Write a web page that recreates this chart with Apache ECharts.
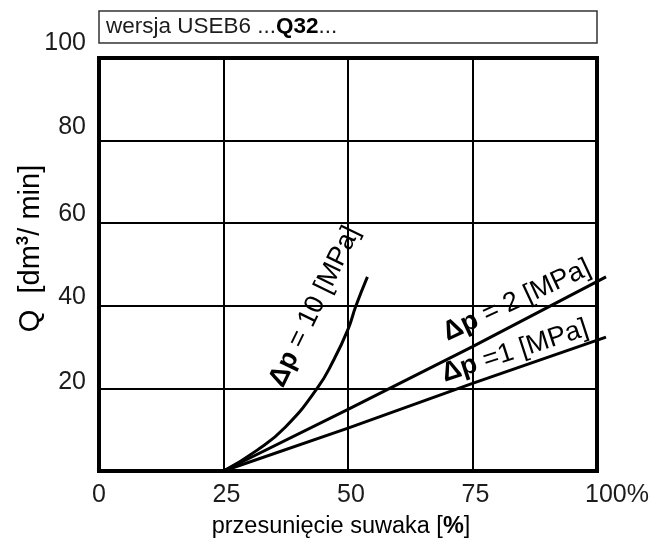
<!DOCTYPE html>
<html>
<head>
<meta charset="utf-8">
<script src="https://cdn.jsdelivr.net/npm/echarts@6/dist/echarts.min.js"></script>
<style>html,body{margin:0;padding:0;background:#fff}#c{width:652px;height:545px}</style>
</head>
<body>
<div id="c"></div>
<script>
// ---- data ----
var xTicks = [0, 25, 50, 75, 100];
var yTicks = [20, 40, 60, 80, 100];
var dp10X = [25, 31.7, 37.4, 43.8, 47.1, 50, 51.6, 53.9];
var dp10Y = [0, 5.0, 10.6, 20.0, 26.8, 34.3, 40.0, 47.0];
var dp2X = [25, 50, 75, 101.8];
var dp2Y = [0, 14.9, 30.1, 47.0];
var dp1X = [25, 50, 75, 101.8];
var dp1Y = [0, 10.4, 21.2, 32.4];
var seriesNames = ['Δp = 10 [MPa]', 'Δp = 2 [MPa]', 'Δp =1 [MPa]'];
var titleText = ['wersja USEB6 ...', 'Q32', '...'];

function pairs(xs, ys) { return xs.map(function (x, i) { return [x, ys[i]]; }); }

var FONT = '"Liberation Sans", Arial, sans-serif';
var TXT = '#1c1c1c';
var TICK = 25;
var chart = echarts.init(document.getElementById('c'));

var lineStyle = { color: '#000', width: 3 };
var gridMain = { left: 99, right: 55, top: 58, bottom: 74 };
var option = {
  backgroundColor: '#fff',
  animation: false,
  textStyle: { fontFamily: FONT, color: TXT },
  grid: [
    { left: gridMain.left, right: gridMain.right, top: gridMain.top, bottom: gridMain.bottom, outerBoundsMode: 'none', containLabel: false, show: true, borderColor: '#000', borderWidth: 4, backgroundColor: 'transparent' },
    // same scale, slightly wider, so the straight lines can run past the frame as in the original
    { left: gridMain.left, right: gridMain.right - 10, top: gridMain.top, bottom: gridMain.bottom, outerBoundsMode: 'none', containLabel: false, show: false }
  ],
  xAxis: [{
    gridIndex: 0, type: 'value', min: 0, max: 100, interval: 25,
    axisLine: { show: false },
    axisTick: { show: false },
    splitLine: { show: true, lineStyle: { color: '#000', width: 2 } },
    axisLabel: {
      margin: 12, fontSize: TICK, color: TXT, fontFamily: FONT,
      formatter: function (v) {
        if (v === 100) return '{e|100%}';
        if (v === 0) return '{z|0}';
        return '{m|' + v + '}';
      },
      rich: {
        e: { fontSize: TICK, fontFamily: FONT, color: TXT, padding: [0, 0, 0, 40] },
        z: { fontSize: TICK, fontFamily: FONT, color: TXT },
        m: { fontSize: TICK, fontFamily: FONT, color: TXT, padding: [0, 0, 0, 6] }
      },
      showMinLabel: true, showMaxLabel: true
    },
    name: 'przesunięcie suwaka [{b|%}]',
    nameLocation: 'middle', nameGap: 44, nameMoveOverlap: false,
    nameTextStyle: { fontSize: 23.5, color: '#000', fontFamily: FONT, padding: [0, 14, 0, 0], rich: { b: { fontSize: 23.5, fontWeight: 'bold', fontFamily: FONT, color: '#000' } } }
  }, {
    gridIndex: 1, type: 'value', min: 0, max: 102, show: false
  }],
  yAxis: [{
    gridIndex: 0, type: 'value', min: 0, max: 100, interval: 20,
    axisLine: { show: false },
    axisTick: { show: false },
    splitLine: { show: true, lineStyle: { color: '#000', width: 2 } },
    axisLabel: {
      margin: 13, fontSize: TICK, color: TXT, fontFamily: FONT,
      formatter: function (v) {
        if (v === 0) return '';
        return '{t' + v + '|' + v + '}';
      },
      rich: {
        t20: { fontSize: TICK, fontFamily: FONT, color: TXT, padding: [0, 0, 12, 0] },
        t40: { fontSize: TICK, fontFamily: FONT, color: TXT, padding: [0, 0, 18, 0] },
        t60: { fontSize: TICK, fontFamily: FONT, color: TXT, padding: [0, 0, 18, 0] },
        t80: { fontSize: TICK, fontFamily: FONT, color: TXT, padding: [0, 0, 26, 0] },
        t100: { fontSize: TICK, fontFamily: FONT, color: TXT, padding: [0, 0, 30, 0] }
      }
    },
    name: 'Q  [dm{s|3}/ min]',
    nameLocation: 'middle', nameGap: 53, nameMoveOverlap: false,
    nameTextStyle: { fontSize: 29, color: '#000', fontFamily: FONT, padding: [0, 0, 0, 32], rich: { s: { fontSize: 17, fontFamily: FONT, fontWeight: 'bold', color: '#000', verticalAlign: 'top', padding: [0, 0, 14, 0] } } }
  }, {
    gridIndex: 1, type: 'value', min: 0, max: 100, show: false
  }],
  series: [
    { name: seriesNames[0], type: 'line', xAxisIndex: 0, yAxisIndex: 0, smooth: 0.5, showSymbol: false, lineStyle: lineStyle, data: pairs(dp10X, dp10Y) },
    { name: seriesNames[1], type: 'line', xAxisIndex: 1, yAxisIndex: 1, showSymbol: false, clip: false, lineStyle: lineStyle, data: pairs(dp2X, dp2Y) },
    { name: seriesNames[2], type: 'line', xAxisIndex: 1, yAxisIndex: 1, showSymbol: false, clip: false, lineStyle: lineStyle, data: pairs(dp1X, dp1Y) }
  ]
};
chart.setOption(option);

// annotation labels placed in data coordinates
var annot = [
  { text: seriesNames[0], x: 43.3, y: 39.8, rot: 64 },
  { text: seriesNames[1], x: 83.9, y: 41.3, rot: 25 },
  { text: seriesNames[2], x: 83.5, y: 29.0, rot: 18 }
];
var graphics = annot.map(function (a) {
  var p = chart.convertToPixel({ gridIndex: 0 }, [a.x, a.y]);
  var parts = a.text.split('Δp');
  return {
    type: 'text', x: p[0], y: p[1], rotation: a.rot * Math.PI / 180,
    style: {
      text: '{b|Δp}' + parts[1], fontSize: 27, fontFamily: FONT, fill: '#000',
      align: 'center', verticalAlign: 'middle',
      rich: { b: { fontSize: 27, fontWeight: 'bold', fontFamily: FONT, fill: '#000' } }
    }
  };
});
var pL = chart.convertToPixel({ gridIndex: 0 }, [0, 100]);
var pR = chart.convertToPixel({ gridIndex: 0 }, [100, 100]);
graphics.push({
  type: 'rect', shape: { x: pL[0], y: 11, width: pR[0] - pL[0], height: 32 },
  style: { fill: '#fff', stroke: '#333', lineWidth: 1.5 }
});
graphics.push({
  type: 'text', x: pL[0] + 7, y: 27,
  style: {
    text: titleText[0] + '{b|' + titleText[1] + '}' + titleText[2],
    fontSize: 22.5, fontFamily: FONT, fill: TXT, verticalAlign: 'middle',
    rich: { b: { fontSize: 22.5, fontWeight: 'bold', fontFamily: FONT, fill: '#000' } }
  }
});
chart.setOption({ graphic: graphics });
</script>
</body>
</html>
